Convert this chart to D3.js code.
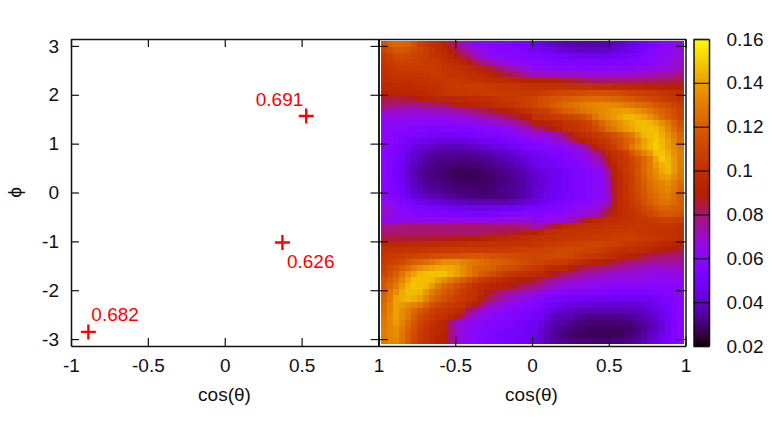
<!DOCTYPE html>
<html>
<head>
<meta charset="utf-8">
<script src="https://cdn.jsdelivr.net/npm/d3@7"></script>
<style>
  html, body { margin: 0; padding: 0; background: #fff; }
  svg { display: block; }
  text { font-family: "Liberation Sans", sans-serif; font-size: 19px; fill: #111; }
  .axis path, .axis line { stroke: #111; }
  .axis path { stroke-width: 1.5; }
  .axis line { stroke-width: 1.2; }
</style>
</head>
<body>
<div id="container"></div>
<script>
// tick labels
const xTicks = [-1, -0.5, 0, 0.5, 1];
const yTicks = [-3, -2, -1, 0, 1, 2, 3];
const barTicks = [0.02, 0.04, 0.06, 0.08, 0.1, 0.12, 0.14, 0.16];

// red markers on the left panel
const pointCos = [0.53, 0.375, -0.887];
const pointPhi = [1.567, -1.024, -2.853];
const pointLabels = ['0.691', '0.626', '0.682'];

// cell centres of the map
const cosStep = 0.03936, phiStep = 0.124;
const cellCos = d3.range(50).map(i => -0.964 + cosStep * i);
const cellPhi = d3.range(50).map(j => 3.038 - phiStep * j);

// map values in thousandths, top row first
const cells = [
  [115,122,124,124,122,115,108,104,101,98,93,85,80,72,68,63,61,60,58,57,56,55,53,52,49,47,45,43,41,39,38,37,37,36,36,36,37,38,39,41,43,45,47,50,53,55,58,60,62,64],
  [110,114,118,118,117,113,110,107,103,99,95,90,84,78,73,68,65,62,60,58,58,57,55,54,52,50,48,47,46,44,43,42,41,41,40,40,41,42,43,44,45,47,49,52,55,58,60,62,64,65],
  [105,109,112,113,112,110,108,106,103,100,98,94,90,85,80,75,70,66,63,61,60,59,58,57,56,55,54,53,52,51,50,49,48,48,47,47,47,48,49,49,50,52,54,56,58,60,62,64,66,68],
  [103,106,108,109,109,108,107,106,105,103,100,98,96,93,90,85,80,76,72,69,66,64,62,61,60,58,58,57,56,56,55,54,54,53,53,53,53,54,54,55,55,56,57,58,60,62,64,66,68,70],
  [100,103,105,106,106,106,106,106,106,104,102,101,100,98,96,94,92,88,85,81,78,75,72,70,67,64,63,62,61,60,60,59,59,58,58,58,58,59,59,60,60,61,62,63,64,65,67,68,70,72],
  [99,101,103,104,104,104,104,104,105,105,103,102,101,100,99,98,96,94,92,89,86,84,81,78,75,72,72,71,71,70,70,70,69,69,68,68,68,68,68,69,69,70,70,71,72,73,74,75,76,78],
  [98,99,100,100,100,100,100,101,102,102,103,103,103,102,101,100,100,99,98,97,97,95,94,92,91,90,90,90,89,89,88,86,85,84,82,80,80,80,80,80,80,80,81,81,81,82,82,83,84,85],
  [96,96,97,97,97,98,98,99,100,101,103,104,105,105,106,106,106,105,105,104,104,103,103,102,101,100,100,100,100,100,100,100,100,100,100,99,99,98,97,96,96,95,95,94,93,92,92,91,91,90],
  [93,93,93,94,94,95,96,97,98,100,102,103,103,104,105,105,105,106,106,106,106,106,106,105,105,105,107,108,110,111,112,112,113,114,115,115,115,115,114,113,110,109,108,107,106,105,103,102,100,98],
  [85,85,85,85,86,87,90,91,92,94,95,95,96,96,97,98,99,100,101,102,103,104,106,108,109,110,113,115,117,118,120,121,122,123,124,125,125,124,123,122,120,118,116,114,112,110,108,106,103,100],
  [80,80,79,79,78,78,79,80,81,82,83,85,90,91,92,93,94,95,97,99,100,102,104,106,108,110,113,116,119,122,124,126,128,130,132,133,134,134,133,132,130,128,126,124,122,118,116,113,110,106],
  [72,72,71,71,70,70,70,70,71,71,72,73,74,76,78,80,82,84,86,88,90,92,95,98,102,105,106,108,112,116,120,122,125,127,130,132,134,136,138,139,139,138,136,133,129,125,122,118,114,109],
  [66,66,65,65,64,64,64,64,65,65,65,66,67,68,69,70,72,74,76,78,80,83,86,89,92,100,101,103,105,106,108,110,112,115,120,127,133,136,139,142,145,145,143,140,136,131,125,120,115,110],
  [63,62,62,61,61,60,60,60,60,60,60,60,61,62,62,63,64,66,67,69,70,73,76,79,82,90,91,93,95,97,100,102,104,106,110,116,123,128,132,136,140,143,146,147,145,141,136,130,122,115],
  [62,61,60,59,58,57,57,57,56,56,56,56,56,56,57,57,58,59,60,61,62,64,67,69,72,78,80,84,88,93,98,100,102,105,108,112,118,125,129,134,138,141,145,147,147,146,140,133,125,118],
  [62,60,58,56,55,54,53,52,51,51,50,50,50,51,51,52,53,54,55,56,57,58,60,62,64,68,68,68,70,75,80,88,95,98,101,104,107,111,115,120,125,130,138,145,147,148,143,137,130,122],
  [62,59,57,55,51,48,47,46,45,44,43,43,43,43,44,45,46,48,49,50,52,53,54,55,57,60,61,62,65,68,72,78,85,90,95,99,103,106,110,114,120,125,132,140,145,149,145,140,132,125],
  [60,57,54,52,48,45,43,41,40,39,38,38,38,38,39,40,41,42,44,45,46,48,50,52,54,56,57,58,60,61,62,64,68,73,80,92,98,103,107,113,120,128,135,141,146,150,146,140,134,128],
  [60,56,53,50,45,41,39,37,36,35,35,35,35,35,35,35,36,37,38,39,40,42,44,46,48,50,51,53,54,55,57,59,62,65,70,77,85,95,100,104,108,117,125,132,138,148,148,143,136,130],
  [60,56,53,49,45,41,38,36,34,33,33,33,32,32,32,33,33,34,35,36,37,39,40,42,44,47,48,50,51,53,55,57,60,63,66,71,78,90,98,102,105,110,117,124,130,142,150,145,138,130],
  [60,55,51,48,43,39,36,34,33,32,31,31,30,30,30,30,31,32,33,34,35,36,38,40,42,45,46,47,49,51,53,55,57,60,62,67,72,84,93,100,104,110,116,123,130,138,144,146,138,130],
  [60,55,50,47,42,38,35,33,32,31,30,29,28,28,28,28,29,30,31,32,33,34,35,37,39,42,44,45,47,49,50,52,54,56,58,62,65,78,92,99,105,110,116,124,130,135,142,145,138,130],
  [60,55,50,47,42,38,35,33,32,31,30,29,28,28,27,28,28,29,30,31,32,33,35,36,38,40,42,44,46,48,50,52,54,56,58,60,63,75,90,98,103,108,115,122,128,133,138,140,134,128],
  [60,55,51,48,43,39,36,34,33,32,31,30,29,29,29,29,29,29,30,31,32,33,34,35,37,40,42,44,46,48,50,52,54,56,58,60,62,72,88,97,102,108,114,120,126,130,133,135,130,125],
  [62,57,53,50,45,41,38,36,35,34,33,32,31,31,31,30,30,30,31,32,33,34,35,36,38,41,43,45,47,48,50,52,54,56,58,60,62,72,87,97,102,108,113,118,124,128,131,133,128,122],
  [62,58,55,52,47,43,41,39,38,37,36,35,34,33,32,32,31,31,31,31,32,33,34,36,38,42,44,46,48,49,51,53,55,56,58,60,62,70,85,97,102,107,112,117,122,125,129,130,125,120],
  [65,62,59,56,53,50,48,46,44,43,42,41,40,39,38,38,38,38,38,38,38,39,40,41,43,45,47,48,50,51,53,55,57,59,60,62,64,72,88,97,101,105,110,115,120,124,127,128,124,120],
  [70,66,63,60,58,55,54,53,52,51,50,49,48,47,47,46,46,46,47,47,48,48,49,50,51,51,53,54,56,57,58,60,62,64,66,68,72,82,90,96,100,103,107,111,115,119,122,122,120,118],
  [68,65,62,60,59,58,57,56,56,55,55,54,54,54,53,53,53,53,54,54,55,55,56,57,58,56,58,59,60,61,62,64,65,67,69,72,80,88,93,97,100,102,104,107,111,114,117,118,117,115],
  [66,65,65,65,65,65,65,65,65,65,66,66,66,66,66,66,66,66,66,66,66,67,67,68,69,64,65,66,67,68,69,72,78,84,90,94,96,98,99,100,101,101,102,103,105,106,108,109,108,106],
  [76,77,78,79,80,80,80,80,80,80,80,80,80,80,80,80,80,80,80,80,80,80,79,79,78,72,76,80,85,90,95,97,98,99,100,100,100,101,101,102,102,103,103,103,103,103,103,103,102,101],
  [80,80,80,80,80,80,80,80,80,80,80,80,80,80,80,80,81,82,83,84,84,85,87,88,89,90,94,98,99,100,100,101,101,102,102,103,103,104,104,105,105,105,104,103,102,102,101,100,99,98],
  [85,85,85,86,86,86,86,86,87,87,87,88,88,89,89,90,91,92,93,94,95,96,97,98,99,100,101,101,102,102,103,103,104,104,105,105,106,106,107,107,108,107,106,105,104,103,102,101,100,98],
  [95,95,95,95,95,95,96,96,97,97,98,98,99,99,100,100,100,100,100,100,100,101,101,102,102,103,104,105,106,107,108,108,109,109,110,110,110,109,108,107,105,104,102,101,100,98,96,94,92,90],
  [100,101,101,102,102,103,103,104,104,105,105,105,106,106,106,106,106,106,106,106,106,107,107,107,108,108,109,110,110,111,112,112,111,110,109,108,106,104,100,99,98,98,97,95,93,90,89,88,86,85],
  [103,105,106,108,109,110,111,112,113,114,115,116,116,117,118,118,118,117,116,115,114,113,113,112,111,110,111,111,112,112,112,110,108,106,104,103,101,99,98,95,92,90,87,84,82,80,80,79,79,78],
  [105,108,110,113,117,120,122,125,128,132,135,135,135,132,130,128,126,124,122,121,120,118,116,114,112,110,109,108,107,106,105,102,100,97,95,92,90,88,85,83,80,79,78,77,76,75,75,75,75,75],
  [108,112,115,120,125,130,135,138,140,142,143,142,140,135,130,125,123,122,120,117,115,113,111,109,107,105,103,98,97,96,95,90,86,82,81,80,78,77,75,74,73,72,71,70,69,68,68,69,69,70],
  [110,115,120,128,135,140,145,147,148,148,148,144,140,135,130,125,120,116,113,109,105,103,101,100,98,97,95,92,88,85,82,80,77,75,73,72,71,70,69,68,68,67,67,66,66,65,65,65,65,65],
  [115,120,125,133,140,147,147,147,145,140,135,130,125,120,115,110,106,103,100,97,95,93,91,89,88,87,83,78,75,73,72,70,69,68,67,66,66,65,65,64,64,64,63,63,63,62,62,62,62,62],
  [118,124,130,138,145,148,147,145,138,130,124,120,115,110,105,100,98,96,94,92,90,88,85,82,80,78,75,72,70,68,66,65,64,63,63,62,61,60,60,59,58,58,58,58,58,58,58,59,59,60],
  [120,128,135,142,147,146,145,138,130,125,120,115,110,105,102,100,97,90,85,81,78,75,73,71,69,68,65,62,60,59,58,57,57,56,56,55,55,54,54,54,53,53,53,54,54,55,56,57,59,60],
  [122,130,140,143,145,143,140,132,125,120,115,112,108,105,101,98,92,85,80,76,72,70,68,65,63,60,58,56,54,52,50,50,49,49,48,48,48,48,47,47,47,47,48,48,49,50,52,54,57,60],
  [125,132,140,138,135,132,128,122,115,111,108,105,103,100,95,90,83,75,72,69,66,64,62,60,58,57,54,51,49,47,45,44,44,43,43,42,42,42,42,42,42,42,43,44,45,47,50,53,56,60],
  [125,133,140,135,130,124,118,113,108,105,103,100,97,95,80,75,70,66,64,62,60,58,56,55,54,52,50,47,44,42,40,39,38,38,37,37,37,37,37,37,38,38,39,40,42,44,47,51,55,60],
  [128,134,140,134,128,120,113,109,105,102,100,95,90,80,72,68,65,62,60,59,58,56,55,53,52,50,47,43,40,38,38,37,35,34,33,33,33,33,33,33,34,35,36,38,40,42,46,50,55,60],
  [128,133,138,132,125,117,110,105,100,97,95,80,70,67,64,62,60,58,57,56,55,54,52,51,50,48,45,41,38,36,35,33,32,31,31,30,30,30,30,31,31,32,34,36,38,40,44,49,54,60],
  [130,133,135,129,122,115,108,103,98,96,94,80,70,66,63,61,59,57,55,54,53,52,51,50,48,47,43,39,36,34,32,31,30,29,28,28,28,28,28,28,29,30,32,34,37,40,44,49,54,60],
  [130,133,135,128,120,113,106,102,98,95,92,80,70,66,62,60,58,56,54,53,52,51,50,49,48,46,42,38,35,33,31,30,29,29,28,28,28,28,28,28,30,31,33,36,39,42,46,50,55,60],
  [130,132,133,127,120,112,105,101,97,93,90,80,70,66,62,60,58,56,54,53,52,51,50,48,46,45,42,38,36,34,33,32,31,31,31,30,30,30,31,31,32,33,35,38,41,44,47,51,55,60]
];

const plotTop = 39, plotBottom = 346;
const leftPanel = [71, 378.5];
const rightPanel = [378.5, 685.5];
const barBox = [693.5, 709];

// gnuplot default pm3d palette (rgbformulae 7,5,15)
const palette = t => {
  const r = Math.sqrt(t);
  const g = t * t * t;
  const b = Math.max(0, Math.sin(2 * Math.PI * t));
  return d3.rgb(r * 255, g * 255, b * 255).formatHex();
};
const colorNorm = d3.scaleLinear().domain([20, 160]).range([0, 1]).clamp(true);

const svg = d3.select('#container')
  .append('svg')
  .attr('width', 781)
  .attr('height', 427);

// scales
const yScale = d3.scaleLinear().domain([-Math.PI, Math.PI]).range([plotBottom, plotTop]);
const xLeft = d3.scaleLinear().domain([-1, 1]).range(leftPanel);
const xRight = d3.scaleLinear().domain([-1, 1]).range(rightPanel);
const barScale = d3.scaleLinear().domain([0.02, 0.16]).range([plotBottom, plotTop]);

/*==================================================
    HEAT MAP
===================================================*/
const cellW = xRight(cosStep) - xRight(0);
const cellH = yScale(0) - yScale(phiStep);
const rows = svg.append('g')
  .attr('shape-rendering', 'crispEdges')
  .selectAll('g')
  .data(cells)
  .enter()
  .append('g');

rows.selectAll('rect')
  .data((row, j) => row.map((v, i) => ({ v, i, j })))
  .enter()
  .append('rect')
  .attr('x', d => xRight(cellCos[d.i]) - cellW / 2)
  .attr('y', d => yScale(cellPhi[d.j]) - cellH / 2)
  .attr('width', cellW + 0.5)
  .attr('height', cellH + 0.5)
  .attr('fill', d => palette(colorNorm(d.v)));

/*==================================================
    AXES
===================================================*/
const drawFrame = (x, tickLen, bottomValues) => {
  svg.append('g').attr('class', 'axis')
    .attr('transform', `translate(0, ${plotBottom})`)
    .call(d3.axisBottom(x).tickValues(xTicks).tickSizeInner(-tickLen).tickSizeOuter(0).tickPadding(12.5)
      .tickFormat(d => bottomValues.includes(d) ? String(d) : ''));
  svg.append('g').attr('class', 'axis')
    .attr('transform', `translate(0, ${plotTop})`)
    .call(d3.axisTop(x).tickValues(xTicks).tickSizeInner(-tickLen).tickSizeOuter(0).tickFormat(''));
};

drawFrame(xLeft, 8, xTicks);
drawFrame(xRight, 9.5, xTicks.slice(1));

const drawY = (x, axis, tickLen, labelled) => {
  const a = axis(yScale).tickValues(yTicks).tickSizeInner(-tickLen).tickSizeOuter(0).tickPadding(12)
    .tickFormat(labelled ? d => String(d) : '');
  svg.append('g').attr('class', 'axis')
    .attr('transform', `translate(${x}, 0)`)
    .call(a);
};

drawY(leftPanel[0], d3.axisLeft, 8, true);
drawY(leftPanel[1], d3.axisRight, 8, false);
drawY(rightPanel[0], d3.axisLeft, 9.5, false);
drawY(rightPanel[1], d3.axisRight, 9.5, false);

// axis titles
svg.append('text').attr('x', 224.5).attr('y', 401).attr('text-anchor', 'middle').text('cos(θ)');
svg.append('text').attr('x', 531.5).attr('y', 401).attr('text-anchor', 'middle').text('cos(θ)');
svg.append('text')
  .attr('transform', 'translate(21, 192.5) rotate(-90)')
  .attr('text-anchor', 'middle')
  .text('ϕ');

/*==================================================
    MARKERS
===================================================*/
const labelDx = [-50.5, 4.5, 3];
const labelDy = [-9.5, 25.5, -11];
const markers = svg.append('g')
  .selectAll('g')
  .data(pointLabels)
  .enter()
  .append('g')
  .attr('transform', (d, i) => `translate(${xLeft(pointCos[i])}, ${yScale(pointPhi[i])})`);

markers.append('path')
  .attr('d', 'M-7.5,0H7.5M0,-7.5V7.5')
  .attr('stroke', '#ff0000')
  .attr('stroke-width', 2.4)
  .attr('fill', 'none');

markers.append('text')
  .attr('x', (d, i) => labelDx[i])
  .attr('y', (d, i) => labelDy[i])
  .style('fill', '#ff0000')
  .text(d => d);

/*==================================================
    COLOUR BAR
===================================================*/
const bands = d3.range(128);
svg.append('g')
  .attr('shape-rendering', 'crispEdges')
  .selectAll('rect')
  .data(bands)
  .enter()
  .append('rect')
  .attr('x', barBox[0])
  .attr('width', barBox[1] - barBox[0])
  .attr('y', d => barScale(0.02 + 0.14 * (d + 1) / 128))
  .attr('height', (plotBottom - plotTop) / 128 + 0.5)
  .attr('fill', d => palette((d + 0.5) / 128));

svg.append('g').attr('class', 'axis')
  .attr('transform', `translate(${barBox[1]}, 0)`)
  .call(d3.axisRight(barScale).tickValues(barTicks).tickSizeInner(-8).tickSizeOuter(0).tickPadding(17.5).tickFormat(d => String(d)));
svg.append('g').attr('class', 'axis')
  .attr('transform', `translate(${barBox[0]}, 0)`)
  .call(d3.axisLeft(barScale).tickValues(barTicks).tickSizeInner(-8).tickSizeOuter(0).tickFormat(''));
svg.append('g').attr('class', 'axis')
  .attr('transform', `translate(0, ${plotTop})`)
  .call(d3.axisTop(d3.scaleLinear().domain([0, 1]).range(barBox)).tickValues([]).tickSizeOuter(0));
svg.append('g').attr('class', 'axis')
  .attr('transform', `translate(0, ${plotBottom})`)
  .call(d3.axisBottom(d3.scaleLinear().domain([0, 1]).range(barBox)).tickValues([]).tickSizeOuter(0));

// d3.axis sets its own font on the group, so put ours back
svg.selectAll('.axis').attr('font-size', null).attr('font-family', null);
</script>
</body>
</html>
